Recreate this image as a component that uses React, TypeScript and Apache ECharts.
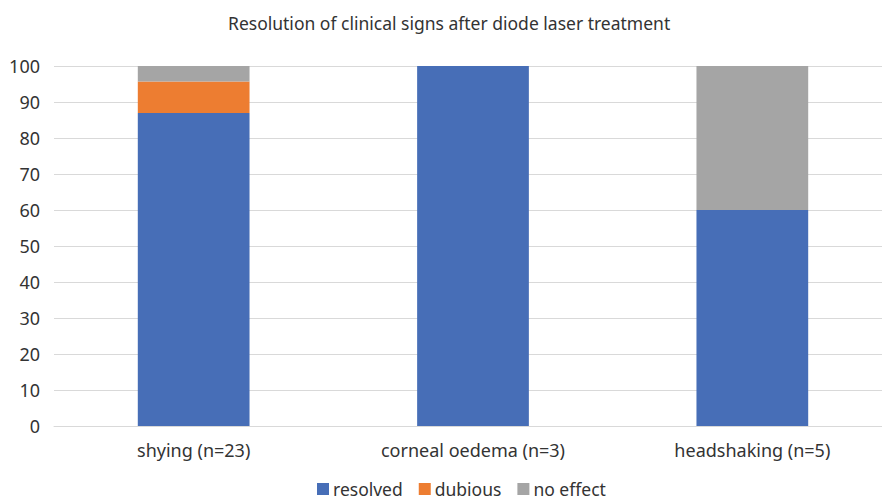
import React, { useEffect, useRef } from "react";
import * as echarts from "echarts";

const categories = ["shying (n=23)", "corneal oedema (n=3)", "headshaking (n=5)"];
const resolved = [86.96, 100, 60];
const dubious = [8.7, 0, 0];
const noEffect = [4.34, 0, 40];
const seriesNames = ["resolved", "dubious", "no effect"];
const colors = ["#476eb7", "#ed7d31", "#a5a5a5"];

const FONT = "Noto Sans";

export default function App() {
  const ref = useRef<HTMLDivElement>(null);
  useEffect(() => {
    document.body.style.margin = "0";
    const chart = echarts.init(ref.current!, null, { renderer: "svg" });
    const data = [resolved, dubious, noEffect];
    chart.setOption({
      animation: false,
      textStyle: { fontFamily: FONT },
      title: {
        text: "Resolution of clinical signs after diode laser treatment",
        left: 223,
        top: 9,
        textStyle: { fontSize: 17.5, fontWeight: "normal", color: "#333", fontFamily: FONT },
      },
      legend: {
        bottom: -3,
        left: 312,
        itemWidth: 12,
        itemHeight: 12,
        itemGap: 16,
        icon: "rect",
        textStyle: { fontSize: 17.5, color: "#333", fontFamily: FONT, padding: [0, 0, 0, -1] },
        data: seriesNames,
      },
      grid: {
        left: 54,
        width: 838,
        top: 66,
        bottom: 74,
        containLabel: false,
        outerBoundsMode: "none",
      },
      xAxis: {
        type: "category",
        data: categories,
        axisTick: { show: false },
        axisLine: { lineStyle: { color: "#d9d9d9" } },
        axisLabel: { fontSize: 18, color: "#333", margin: 15, fontFamily: FONT },
      },
      yAxis: {
        type: "value",
        min: 0,
        max: 100,
        interval: 10,
        axisLine: { show: false },
        axisTick: { show: false },
        splitLine: { lineStyle: { color: "#d9d9d9" } },
        axisLabel: { fontSize: 18, color: "#333", margin: 14, fontFamily: FONT },
      },
      series: seriesNames.map((name, i) => ({
        name,
        type: "bar",
        stack: "total",
        barWidth: "40%",
        itemStyle: { color: colors[i] },
        data: data[i],
      })),
    });
    return () => chart.dispose();
  }, []);
  return <div ref={ref} style={{ width: 882, height: 500, overflow: "hidden" }} />;
}
